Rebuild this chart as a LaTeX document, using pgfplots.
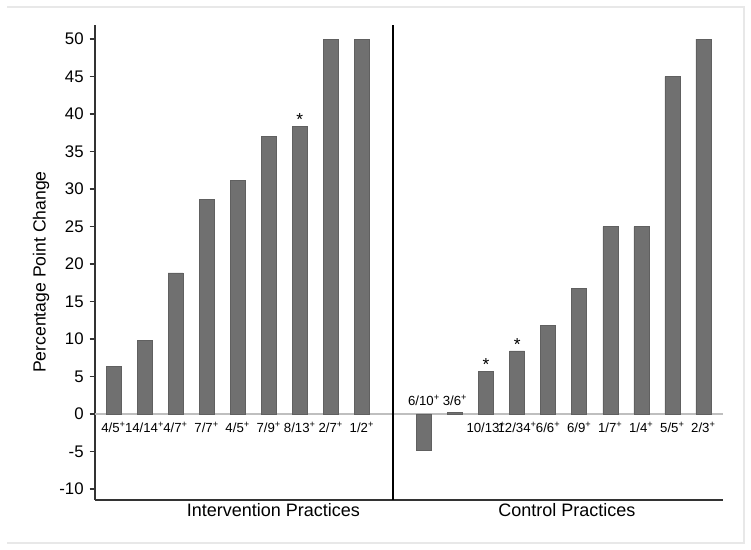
\documentclass[border=0pt]{standalone}
\usepackage{pgfplots}
\pgfplotsset{compat=1.18}
\usepackage{fontspec}
\setmainfont{Liberation Sans}
\definecolor{barfill}{HTML}{707070}
\definecolor{baredge}{HTML}{606060}
\begin{document}
\begin{tikzpicture}[x=0.75pt,y=0.75pt]
\useasboundingbox (0,0) rectangle (751,550);
\draw[black!9, line width=0.9pt] (7,543) -- (744,543) -- (744,7) -- (7,7);
\begin{axis}[
  at={(71.25pt,37.5pt)}, anchor=south west,
  scale only axis, width=471pt, height=356.25pt,
  xmin=-0.596, xmax=19.63, ymin=-11.47, ymax=51.87,
  axis x line*=bottom, axis y line*=left,
  axis line style={-, black!80, line width=0.8pt},
  xtick=\empty, ytick={-10,-5,...,50},
  tick align=outside, major tick length=4pt,
  tick style={black!80, line width=0.8pt},
  /pgf/number format/assume math mode=true,
  yticklabel style={font=\fontsize{12.6}{14}\selectfont, xshift=-1pt},
  ylabel={Percentage Point Change},
  ylabel style={font=\fontsize{13.2}{15}\selectfont, at={(axis description cs:-0.086,0.48)}, anchor=center},
  clip=false,
  every node near coord/.append style={anchor=center, font=\fontsize{9.9}{11}\selectfont, inner sep=0pt},
]
% zero line
\addplot[black!25, line width=1pt, forget plot] coordinates {(-0.596,0) (19.63,0)};
% bars
\addplot[ybar, bar width=11.25pt, bar shift=0pt, fill=barfill, draw=baredge, line width=0.4pt] coordinates {
  (0,6.3) (1,9.8) (2,18.8) (3,28.6) (4,31.2) (5,37.0) (6,38.4) (7,50) (8,50)
  (10,-4.8) (11,0.2) (12,5.7) (13,8.4) (14,11.8) (15,16.7) (16,25) (17,25) (18,45) (19,50)
};
% divider
\addplot[black, line width=1.5pt] coordinates {(9,-11.47) (9,51.87)};
% bar labels
\addplot[draw=none, mark=none, nodes near coords, point meta=explicit symbolic] coordinates {
  (0,-1.75) [4/5\textsuperscript{+}]
  (1,-1.75) [14/14\textsuperscript{+}]
  (2,-1.75) [4/7\textsuperscript{+}]
  (3,-1.75) [7/7\textsuperscript{+}]
  (4,-1.75) [4/5\textsuperscript{+}]
  (5,-1.75) [7/9\textsuperscript{+}]
  (6,-1.75) [8/13\textsuperscript{+}]
  (7,-1.75) [2/7\textsuperscript{+}]
  (8,-1.75) [1/2\textsuperscript{+}]
  (10,1.85) [6/10\textsuperscript{+}]
  (11,1.85) [3/6\textsuperscript{+}]
  (12,-1.75) [10/13\textsuperscript{+}]
  (13,-1.75) [12/34\textsuperscript{+}]
  (14,-1.75) [6/6\textsuperscript{+}]
  (15,-1.75) [6/9\textsuperscript{+}]
  (16,-1.75) [1/7\textsuperscript{+}]
  (17,-1.75) [1/4\textsuperscript{+}]
  (18,-1.75) [5/5\textsuperscript{+}]
  (19,-1.75) [2/3\textsuperscript{+}]
};
% significance markers
\addplot[draw=none, mark=none, nodes near coords, point meta=explicit symbolic,
  every node near coord/.append style={font=\fontsize{13}{14}\selectfont}] coordinates {
  (6,39.3) [*] (12,6.6) [*] (13,9.3) [*]
};
\node[font=\fontsize{13.5}{15}\selectfont] at (axis cs:5.15,-12.75) {Intervention Practices};
\node[font=\fontsize{13.5}{15}\selectfont] at (axis cs:14.6,-12.75) {Control Practices};
\end{axis}
\end{tikzpicture}
\end{document}
